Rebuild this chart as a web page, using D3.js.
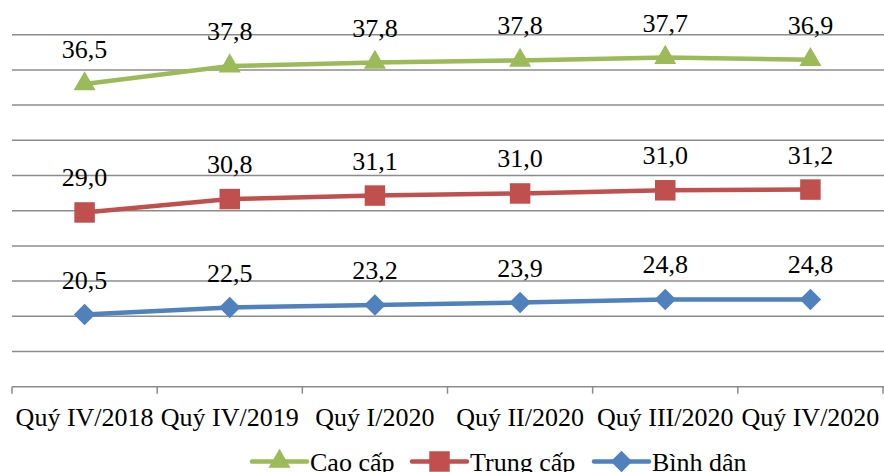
<!DOCTYPE html>
<html>
<head>
<meta charset="utf-8">
<script src="https://cdn.jsdelivr.net/npm/d3@7"></script>
<style>
  body { margin: 0; background: #fff; }
  text { font-family: "Liberation Serif", "Times New Roman", serif; fill: #000; }
</style>
</head>
<body>
<div id="chart"></div>
<script>
// data (stacked lines)
const categories = ["Quý IV/2018", "Quý IV/2019", "Quý I/2020", "Quý II/2020", "Quý III/2020", "Quý IV/2020"];
const binhDan  = [20.5, 22.5, 23.2, 23.9, 24.8, 24.8];
const trungCap = [29.0, 30.8, 31.1, 31.0, 31.0, 31.2];
const caoCap   = [36.5, 37.8, 37.8, 37.8, 37.7, 36.9];
const seriesNames = ["Bình dân", "Trung cấp", "Cao cấp"];
const gridTicks = [10, 20, 30, 40, 50, 60, 70, 80, 90, 100];

const width = 884, height = 472;

const rows = categories.map((c, i) => ({cat: c, "Bình dân": binhDan[i], "Trung cấp": trungCap[i], "Cao cấp": caoCap[i]}));
const stacked = d3.stack().keys(seriesNames)(rows);

const colors = {"Bình dân": "#4F81BD", "Trung cấp": "#C0504D", "Cao cấp": "#9BBB59"};
const symbols = {
    "Bình dân": d3.symbol().type(d3.symbolSquare).size(230),
    "Trung cấp": d3.symbol().type(d3.symbolSquare).size(420),
    "Cao cấp": d3.symbol().type(d3.symbolTriangle).size(210)
};
const rot = k => k === "Bình dân" ? " rotate(45)" : "";

let svg = d3.select("#chart")
    .append("svg")
    .attr("width", width)
    .attr("height", height);

let x = d3.scaleBand()
    .domain(categories)
    .range([12, 883]);

let y = d3.scaleLinear()
    .domain([0, 100])
    .range([386.7, 34.7]);

const cx = c => x(c) + x.bandwidth() / 2;

// gridlines
svg.append("g")
    .selectAll("line")
    .data(gridTicks)
    .enter().append("line")
    .attr("x1", 12).attr("x2", width)
    .attr("y1", d => y(d)).attr("y2", d => y(d))
    .style("stroke", "#8c8c8c")
    .style("stroke-width", 1.5);

// x axis line + tick marks at the category borders
svg.append("line")
    .attr("x1", 12).attr("x2", width)
    .attr("y1", y(0)).attr("y2", y(0))
    .style("stroke", "#8c8c8c")
    .style("stroke-width", 1.5);

svg.append("g")
    .selectAll("line")
    .data(categories.map(c => x(c)).concat([x.range()[1]]))
    .enter().append("line")
    .attr("x1", d => d).attr("x2", d => d)
    .attr("y1", y(0)).attr("y2", y(0) + 7)
    .style("stroke", "#8c8c8c")
    .style("stroke-width", 1.5);

svg.append("g")
    .selectAll("text")
    .data(categories)
    .enter().append("text")
    .attr("x", d => cx(d))
    .attr("y", 426)
    .attr("text-anchor", "middle")
    .style("font-size", "26px")
    .text(d => d);

// lines
let line = d3.line()
    .x(d => cx(d.data.cat))
    .y(d => y(d[1]));

const series = svg.selectAll(".series")
    .data(stacked)
    .enter().append("g")
    .attr("class", "series");

series.append("path")
    .attr("d", d => line(d))
    .style("fill", "none")
    .style("stroke", d => colors[d.key])
    .style("stroke-width", 4.5);

series.selectAll(".marker")
    .data(d => d.map(p => ({key: d.key, p: p})))
    .enter().append("path")
    .attr("class", "marker")
    .attr("d", d => symbols[d.key]())
    .attr("transform", d => "translate(" + cx(d.p.data.cat) + "," + y(d.p[1]) + ")" + rot(d.key))
    .style("fill", d => colors[d.key]);

series.selectAll(".lbl")
    .data(d => d.map(p => ({key: d.key, p: p})))
    .enter().append("text")
    .attr("class", "lbl")
    .attr("x", d => cx(d.p.data.cat))
    .attr("y", d => y(d.p[1]) - 26)
    .attr("text-anchor", "middle")
    .style("font-size", "26px")
    .text(d => d3.format(".1f")(d.p.data[d.key]).replace(".", ","));

// legend
const legendItems = [
    {key: "Cao cấp", x: 252},
    {key: "Trung cấp", x: 412},
    {key: "Bình dân", x: 594}
];
let legend = svg.append("g").attr("class", "legend");
let li = legend.selectAll("g")
    .data(legendItems)
    .enter().append("g")
    .attr("transform", d => "translate(" + d.x + ",461.5)");

li.append("line")
    .attr("x1", 0).attr("x2", 55)
    .style("stroke", d => colors[d.key])
    .style("stroke-width", 4.5)
    .style("stroke-linecap", "round");

li.append("path")
    .attr("d", d => symbols[d.key]())
    .attr("transform", d => "translate(27.5,0)" + rot(d.key))
    .style("fill", d => colors[d.key]);

li.append("text")
    .attr("x", 58)
    .attr("y", 9.5)
    .style("font-size", "26px")
    .text(d => d.key);
</script>
</body>
</html>
